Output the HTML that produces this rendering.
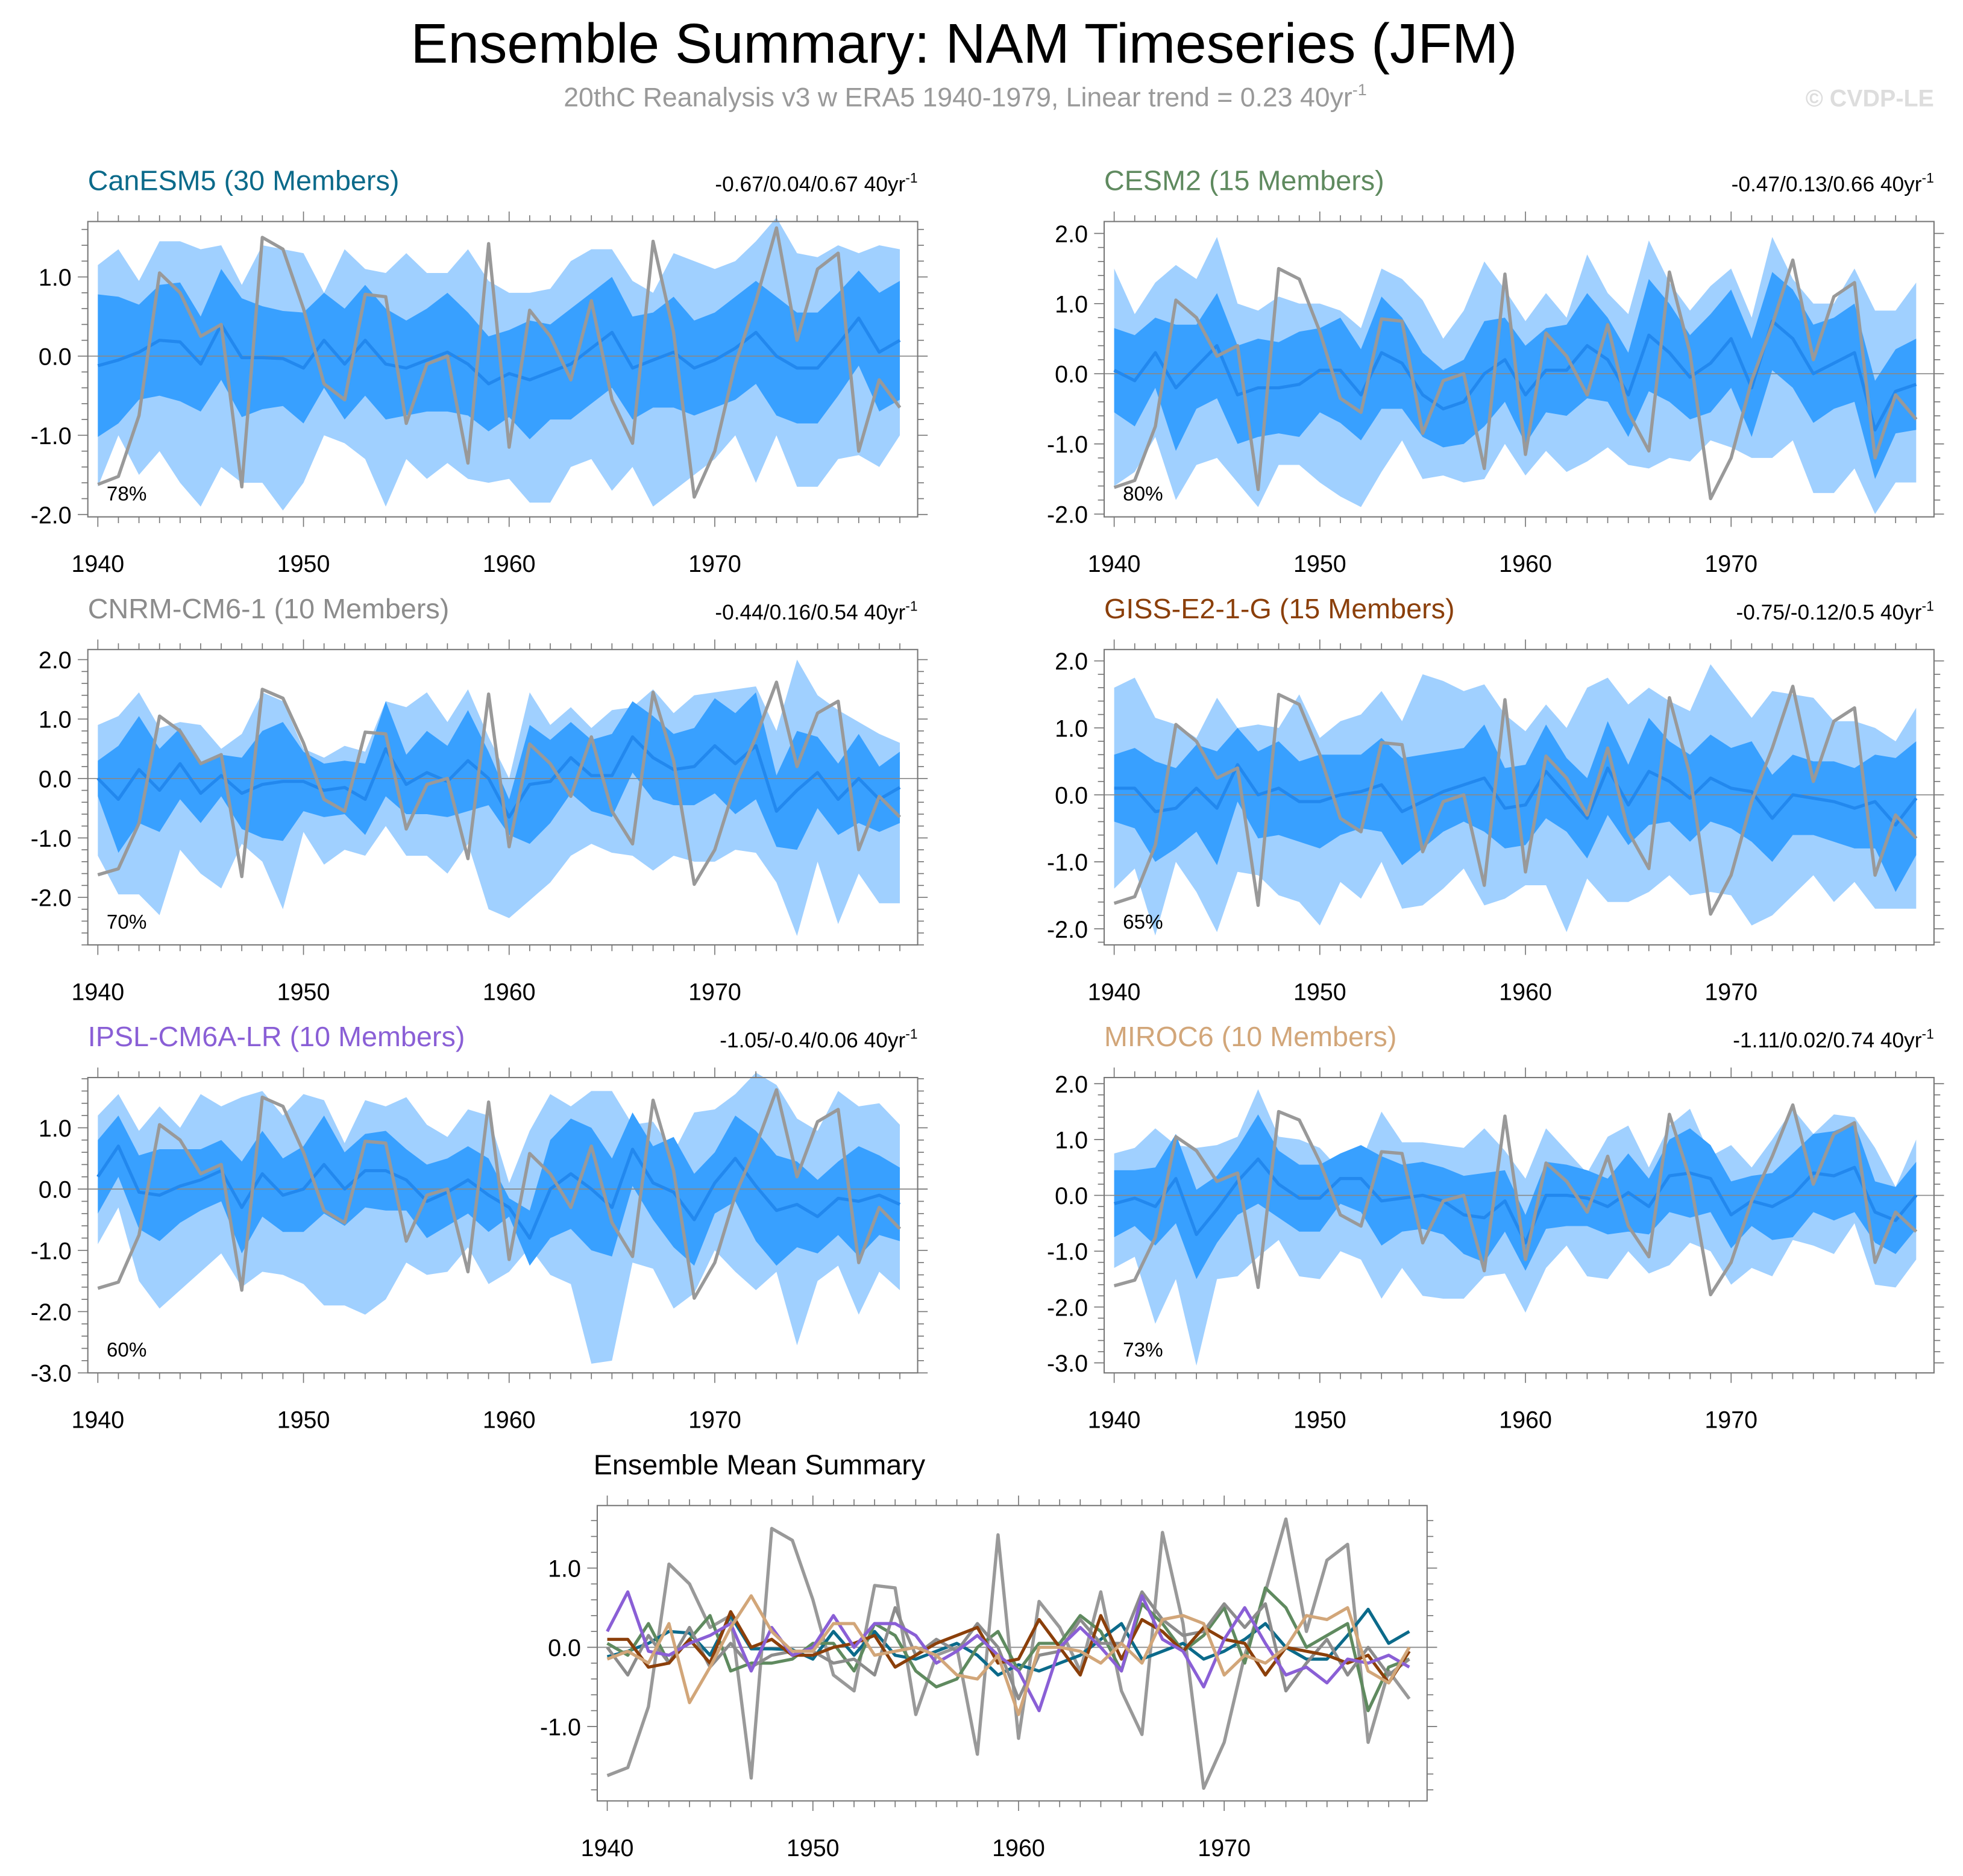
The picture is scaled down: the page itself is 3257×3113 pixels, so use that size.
<!DOCTYPE html>
<html><head><meta charset="utf-8"><style>
html,body{margin:0;padding:0;background:#fff;}
svg{display:block;font-family:"Liberation Sans",Arial,sans-serif;}
</style></head><body>
<svg id="chart" width="3257" height="3113" viewBox="0 0 1568 1499" xmlns="http://www.w3.org/2000/svg">
<rect width="1568" height="1499" fill="#fff"/>
<text x="770" y="50" font-size="44.7" text-anchor="middle" fill="#000">Ensemble Summary: NAM Timeseries (JFM)</text>
<text x="771" y="85" font-size="21.5" text-anchor="middle" fill="#999">20thC Reanalysis v3 w ERA5 1940-1979, Linear trend = 0.23 40yr<tspan dy="-9" font-size="13">-1</tspan></text>
<text x="1545" y="85" font-size="19" font-weight="bold" text-anchor="end" fill="#ddd">© CVDP-LE</text>
</svg>
<script>
const years = [];for(let y=1940;y<=1979;y++)years.push(y);
const obs = [-1.62,-1.52,-0.75,1.05,0.8,0.25,0.4,-1.65,1.5,1.35,0.6,-0.35,-0.55,0.78,0.75,-0.85,-0.1,0.0,-1.35,1.42,-1.15,0.58,0.25,-0.3,0.7,-0.55,-1.1,1.45,0.3,-1.78,-1.2,-0.1,0.7,1.62,0.2,1.1,1.3,-1.2,-0.3,-0.65];

const canMean=[-0.12,-0.05,0.05,0.2,0.18,-0.1,0.4,-0.02,-0.02,-0.03,-0.15,0.2,-0.1,0.2,-0.1,-0.15,-0.05,0.05,-0.1,-0.35,-0.22,-0.3,-0.2,-0.1,0.1,0.3,-0.15,-0.05,0.05,-0.15,-0.05,0.1,0.3,0.0,-0.15,-0.15,0.15,0.48,0.05,0.2];
const canHi=[1.15,1.35,0.95,1.45,1.45,1.35,1.4,0.9,1.4,1.35,1.3,0.8,1.35,1.1,1.05,1.3,1.05,1.05,1.35,0.95,0.8,0.8,0.85,1.2,1.35,1.35,0.95,0.8,1.3,1.2,1.1,1.2,1.45,1.75,1.3,1.25,1.4,1.3,1.4,1.35];
const canLo=[-1.65,-1.0,-1.5,-1.2,-1.6,-1.9,-1.4,-1.6,-1.6,-1.95,-1.6,-1.0,-1.1,-1.3,-1.9,-1.3,-1.55,-1.35,-1.55,-1.6,-1.55,-1.85,-1.85,-1.4,-1.3,-1.7,-1.4,-1.9,-1.7,-1.5,-1.3,-1.0,-1.6,-1.0,-1.65,-1.65,-1.3,-1.25,-1.4,-1.0];
const canHalf=[0.9,0.8,0.6,0.7,0.75,0.6,0.7,0.75,0.65,0.6,0.7,0.6,0.7,0.7,0.7,0.6,0.65,0.75,0.65,0.6,0.55,0.75,0.6,0.7,0.7,0.7,0.65,0.6,0.7,0.6,0.6,0.65,0.65,0.75,0.7,0.7,0.65,0.6,0.75,0.75];

const cesMean=[0.05,-0.1,0.3,-0.2,0.1,0.4,-0.3,-0.2,-0.2,-0.15,0.05,0.05,-0.3,0.3,0.15,-0.3,-0.5,-0.4,0.0,0.2,-0.3,0.05,0.05,0.4,0.2,-0.3,0.55,0.3,-0.05,0.15,0.5,-0.2,0.75,0.5,0.0,0.15,0.3,-0.8,-0.25,-0.15];
const cesHi=[1.5,0.85,1.3,1.55,1.35,1.95,1.0,0.9,1.1,1.0,1.0,0.9,0.65,1.5,1.35,1.05,0.5,0.9,1.6,1.2,0.75,1.15,0.8,1.7,1.15,0.85,1.9,1.3,0.9,1.25,1.5,0.8,1.95,1.35,1.0,1.0,1.5,0.9,0.9,1.3];
const cesLo=[-1.6,-1.4,-0.9,-1.8,-1.3,-1.2,-1.55,-1.9,-1.3,-1.3,-1.55,-1.75,-1.9,-1.4,-0.95,-1.5,-1.45,-1.55,-1.5,-1.0,-1.45,-1.1,-1.4,-1.25,-1.05,-1.3,-1.35,-1.2,-1.25,-0.95,-1.05,-1.2,-1.2,-0.95,-1.7,-1.7,-1.35,-2.0,-1.55,-1.55];
const cesHalf=[0.6,0.65,0.5,0.9,0.6,0.75,0.7,0.7,0.65,0.75,0.6,0.75,0.65,0.8,0.65,0.6,0.55,0.6,0.75,0.6,0.7,0.6,0.65,0.75,0.6,0.6,0.8,0.7,0.6,0.7,0.7,0.7,0.7,0.7,0.7,0.65,0.7,0.7,0.6,0.65];

const cnrMean=[0.0,-0.35,0.15,-0.2,0.25,-0.25,0.05,-0.25,-0.1,-0.05,-0.05,-0.2,-0.15,-0.35,0.5,-0.1,0.1,-0.05,0.3,0.0,-0.65,-0.1,-0.05,0.35,0.05,0.05,0.7,0.35,0.15,0.2,0.55,0.25,0.55,-0.55,-0.2,0.1,-0.35,0.0,-0.35,-0.15];
const cnrHi=[0.9,1.05,1.45,0.85,0.95,0.9,0.5,0.75,1.45,1.3,0.5,0.35,0.55,0.45,1.3,1.2,1.45,0.95,1.5,0.7,0.0,1.45,0.9,1.2,0.85,1.15,1.2,1.5,1.1,1.4,1.45,1.5,1.55,0.8,2.0,1.4,1.15,0.95,0.75,0.6];
const cnrLo=[-1.3,-1.95,-1.95,-2.3,-1.2,-1.6,-1.85,-1.1,-1.4,-2.2,-0.9,-1.45,-1.2,-1.3,-0.8,-1.3,-1.3,-1.6,-1.1,-2.2,-2.35,-2.05,-1.75,-1.3,-1.1,-1.25,-1.3,-1.55,-1.3,-1.4,-1.4,-1.2,-1.25,-1.75,-2.65,-1.4,-2.45,-1.6,-2.1,-2.1];
const cnrHalf=[0.3,0.9,0.9,0.7,0.6,0.5,0.35,0.6,0.9,1.0,0.5,0.45,0.45,0.6,0.8,0.5,0.7,0.6,0.85,0.45,0.3,1.0,0.7,0.6,0.6,0.7,0.6,0.7,0.6,0.65,0.8,0.85,0.9,0.6,1.0,0.6,0.6,0.75,0.55,0.6];

const gisMean=[0.1,0.1,-0.25,-0.2,0.1,-0.2,0.45,0.0,0.1,-0.1,-0.1,0.0,0.05,0.15,-0.25,-0.1,0.05,0.15,0.25,-0.2,-0.15,0.35,0.0,-0.35,0.4,-0.15,0.35,0.2,-0.05,0.25,0.1,0.05,-0.35,0.0,-0.05,-0.1,-0.2,-0.1,-0.45,-0.05];
const gisHi=[1.6,1.75,1.15,1.05,0.85,1.45,1.0,1.05,1.0,1.5,0.85,1.1,1.2,1.55,1.1,1.8,1.7,1.55,1.65,1.2,0.95,1.35,1.0,1.6,1.75,1.35,1.6,1.4,1.25,1.95,1.55,1.15,1.55,1.5,1.45,1.1,1.1,1.0,0.8,1.3];
const gisLo=[-1.4,-1.1,-2.1,-1.0,-1.45,-2.05,-1.15,-1.2,-1.5,-1.6,-1.95,-1.3,-1.55,-1.0,-1.7,-1.65,-1.4,-1.1,-1.65,-1.55,-1.35,-1.35,-2.05,-1.25,-1.6,-1.6,-1.45,-1.2,-1.5,-1.45,-1.5,-1.95,-1.8,-1.5,-1.2,-1.6,-1.3,-1.7,-1.7,-1.7];
const gisHalf=[0.5,0.6,0.75,0.6,0.65,0.85,0.55,0.65,0.7,0.6,0.7,0.6,0.55,0.7,0.8,0.7,0.6,0.55,0.8,0.6,0.6,0.7,0.55,0.6,0.7,0.6,0.8,0.6,0.65,0.65,0.6,0.75,0.65,0.6,0.55,0.6,0.6,0.7,1.0,0.85];

const ipsMean=[0.2,0.7,-0.05,-0.1,0.05,0.15,0.3,-0.3,0.25,-0.1,0.0,0.4,0.0,0.3,0.3,0.15,-0.2,-0.05,0.15,-0.1,-0.3,-0.8,0.0,0.25,0.0,-0.3,0.65,0.1,-0.05,-0.5,0.1,0.5,0.05,-0.35,-0.25,-0.45,-0.15,-0.2,-0.1,-0.25];
const ipsHi=[1.2,1.55,0.95,1.35,1.0,1.55,1.35,1.5,1.6,1.2,1.55,1.45,0.75,1.45,1.35,1.5,1.05,0.85,1.3,1.2,0.1,0.95,1.55,1.35,1.6,1.6,1.05,1.1,0.6,1.25,1.3,1.55,1.9,1.7,1.15,0.95,1.6,1.35,1.4,1.05];
const ipsLo=[-0.9,-0.3,-1.5,-1.95,-1.65,-1.35,-1.05,-1.6,-1.35,-1.4,-1.55,-1.9,-1.9,-2.05,-1.8,-1.2,-1.4,-1.35,-0.95,-1.55,-1.35,-0.95,-1.4,-1.55,-2.85,-2.8,-1.2,-1.3,-1.95,-1.7,-1.0,-1.35,-1.65,-1.35,-2.55,-1.5,-1.25,-2.05,-1.35,-1.65];
const ipsHalf=[0.6,0.5,0.6,0.75,0.6,0.5,0.5,0.75,0.7,0.6,0.7,0.8,0.6,0.6,0.65,0.5,0.6,0.55,0.55,0.6,0.15,0.45,0.8,0.9,1.0,0.8,0.6,0.6,0.9,0.75,0.5,0.7,0.9,0.9,0.7,0.6,0.6,0.9,0.65,0.6];

const mirMean=[-0.15,-0.05,-0.2,0.3,-0.7,-0.25,0.25,0.65,0.2,-0.05,-0.05,0.3,0.3,-0.1,-0.05,0.0,-0.1,-0.35,-0.4,-0.1,-0.85,0.0,0.0,-0.05,-0.2,0.05,-0.2,0.35,0.4,0.3,-0.35,-0.1,-0.2,0.0,0.4,0.35,0.5,-0.3,-0.45,0.0];
const mirHi=[0.75,0.85,1.2,0.9,0.85,0.9,1.05,1.9,1.05,1.0,0.85,0.45,0.6,1.5,0.95,0.95,0.9,0.85,1.2,0.8,0.3,1.2,0.8,0.4,1.05,1.25,0.5,1.25,1.55,0.7,0.9,0.5,1.0,1.55,1.1,1.45,1.4,0.85,0.15,1.0];
const mirLo=[-1.3,-1.1,-2.3,-1.5,-3.05,-1.5,-1.45,-1.1,-0.8,-1.45,-1.5,-1.0,-1.15,-1.85,-1.3,-1.8,-1.85,-1.85,-1.45,-1.4,-2.1,-1.3,-0.9,-1.45,-1.5,-1.0,-1.4,-1.25,-0.85,-1.0,-1.6,-1.3,-1.45,-0.8,-0.9,-1.05,-0.5,-1.6,-1.65,-1.15];
const mirHalf=[0.6,0.5,0.7,0.8,0.8,0.6,0.6,0.8,0.6,0.6,0.6,0.45,0.6,0.8,0.6,0.6,0.6,0.7,0.8,0.55,0.5,0.6,0.55,0.5,0.5,0.7,0.5,0.65,0.8,0.6,0.6,0.45,0.6,0.75,0.7,0.8,0.8,0.55,0.6,0.6];

const xTickYears=[1940,1950,1960,1970];
const NS="http://www.w3.org/2000/svg";
const svg=document.getElementById('chart');
function mk(tag,attrs,parent){const e=document.createElementNS(NS,tag);for(const k in attrs)e.setAttribute(k,attrs[k]);(parent||svg).appendChild(e);return e;}

const panels=[
 {key:'canesm5',name:'CanESM5 (30 Members)',color:'#0b6a8a',stats:'-0.67/0.04/0.67 40yr',pct:'78%',bx:70,by:177,ymin:-2.03,ymax:1.70,labs:[1,0,-1,-2],mean:canMean,hi:canHi,lo:canLo,half:canHalf},
 {key:'cesm2',name:'CESM2 (15 Members)',color:'#5f8a5f',stats:'-0.47/0.13/0.66 40yr',pct:'80%',bx:882,by:177,ymin:-2.04,ymax:2.17,labs:[2,1,0,-1,-2],mean:cesMean,hi:cesHi,lo:cesLo,half:cesHalf},
 {key:'cnrm',name:'CNRM-CM6-1 (10 Members)',color:'#8c8c8c',stats:'-0.44/0.16/0.54 40yr',pct:'70%',bx:70,by:519,ymin:-2.80,ymax:2.17,labs:[2,1,0,-1,-2],mean:cnrMean,hi:cnrHi,lo:cnrLo,half:cnrHalf},
 {key:'giss',name:'GISS-E2-1-G (15 Members)',color:'#8b3f0a',stats:'-0.75/-0.12/0.5 40yr',pct:'65%',bx:882,by:519,ymin:-2.24,ymax:2.17,labs:[2,1,0,-1,-2],mean:gisMean,hi:gisHi,lo:gisLo,half:gisHalf},
 {key:'ipsl',name:'IPSL-CM6A-LR (10 Members)',color:'#8a5fd6',stats:'-1.05/-0.4/0.06 40yr',pct:'60%',bx:70,by:861,ymin:-3.0,ymax:1.82,labs:[1,0,-1,-2,-3],mean:ipsMean,hi:ipsHi,lo:ipsLo,half:ipsHalf},
 {key:'miroc6',name:'MIROC6 (10 Members)',color:'#d2a679',stats:'-1.11/0.02/0.74 40yr',pct:'73%',bx:882,by:861,ymin:-3.18,ymax:2.11,labs:[2,1,0,-1,-2,-3],mean:mirMean,hi:mirHi,lo:mirLo,half:mirHalf}
];
const W=663,H=236,YR=16.43;

function zeroLine(g,bx,Y){
  mk('line',{x1:bx,x2:bx+W,y1:Y(0),y2:Y(0),stroke:'#888','stroke-width':0.8},g);
}
function frame(g,bx,by,ymin,ymax,labs,X,Y){
  mk('rect',{x:bx,y:by,width:W,height:H,fill:'none',stroke:'#777','stroke-width':1},g);
  for(let y=1940;y<=1979;y++){
    const maj=y%10===0,L=maj?8:5;
    mk('line',{x1:X(y),x2:X(y),y1:by+H,y2:by+H+L,stroke:'#777','stroke-width':0.8},g);
    mk('line',{x1:X(y),x2:X(y),y1:by,y2:by-L,stroke:'#777','stroke-width':0.8},g);
  }
  const start=Math.ceil(ymin*5),end=Math.floor(ymax*5);
  for(let k=start;k<=end;k++){
    const v=k/5,maj=k%5===0,L=maj?8:5;
    mk('line',{x1:bx,x2:bx-L,y1:Y(v),y2:Y(v),stroke:'#777','stroke-width':0.8},g);
    mk('line',{x1:bx+W,x2:bx+W+L,y1:Y(v),y2:Y(v),stroke:'#777','stroke-width':0.8},g);
  }
  labs.forEach(v=>{
    const t=mk('text',{x:bx-13,y:Y(v)+7,'font-size':19,'text-anchor':'end',fill:'#000'},g);
    
    
    t.textContent=v.toFixed(1);
  });
  xTickYears.forEach(y=>{
    const t=mk('text',{x:X(y),y:by+H+44,'font-size':19,'text-anchor':'middle',fill:'#000'},g);
    
    
    t.textContent=y;
  });
}
function line(g,vals,X,Y,color,w){
  return mk('polyline',{points:vals.map((v,i)=>X(years[i]).toFixed(1)+','+Y(v).toFixed(1)).join(' '),fill:'none',stroke:color,'stroke-width':w,'stroke-linejoin':'round'},g);
}
function band(g,top,bot,X,Y,color){
  const pts=top.map((v,i)=>X(years[i])+','+Y(v)).concat(bot.map((v,i)=>[X(years[i]),Y(v)]).reverse().map(p=>p[0]+','+p[1]));
  return mk('polygon',{points:pts.join(' '),fill:color},g);
}

panels.forEach(p=>{
  const g=mk('g',{});
  
  
  const X=y=>p.bx+8+(y-1940)*YR, Y=v=>p.by+H-(v-p.ymin)/(p.ymax-p.ymin)*H;
  const ob=band(g,p.hi,p.lo,X,Y,'#a0d0ff');
  
  
  const ib=band(g,p.mean.map((m,i)=>m+p.half[i]),p.mean.map((m,i)=>m-p.half[i]),X,Y,'#38a0ff');
  
  
  zeroLine(g,p.bx,Y);
  const ml=line(g,p.mean,X,Y,'#2288ee',2.5);
  
  
  const ol=line(g,obs,X,Y,'#999',2.6);
  
  
  frame(g,p.bx,p.by,p.ymin,p.ymax,p.labs,X,Y);
  const t=mk('text',{x:p.bx,y:p.by-25,'font-size':22.5,fill:p.color},g);
  
  
  t.textContent=p.name;
  const s=mk('text',{x:p.bx+W,y:p.by-24,'font-size':17,'text-anchor':'end',fill:'#000'},g);
  
  
  s.innerHTML=p.stats+'<tspan dy="-7" font-size="11">-1</tspan>';
  const pc=mk('text',{x:p.bx+15,y:p.by+H-13,'font-size':16,fill:'#000'},g);
  
  
  pc.textContent=p.pct;
});

// bottom summary
(function(){
  const bx=477,by=1203,ymin=-1.94,ymax=1.79;
  const g=mk('g',{});
  
  
  const X=y=>bx+8+(y-1940)*YR, Y=v=>by+H-(v-ymin)/(ymax-ymin)*H;
  zeroLine(g,bx,Y);
  const ol=line(g,obs,X,Y,'#999',2.6);
  
  
  panels.forEach(p=>{
    const l=line(g,p.mean,X,Y,p.color,2.5);
    
    
  });
  frame(g,bx,by,ymin,ymax,[1,0,-1],X,Y);
  const t=mk('text',{x:bx-3,y:by-25,'font-size':22.5,fill:'#000'},g);
  
  
  t.textContent='Ensemble Mean Summary';
})();
</script>
</body></html>
